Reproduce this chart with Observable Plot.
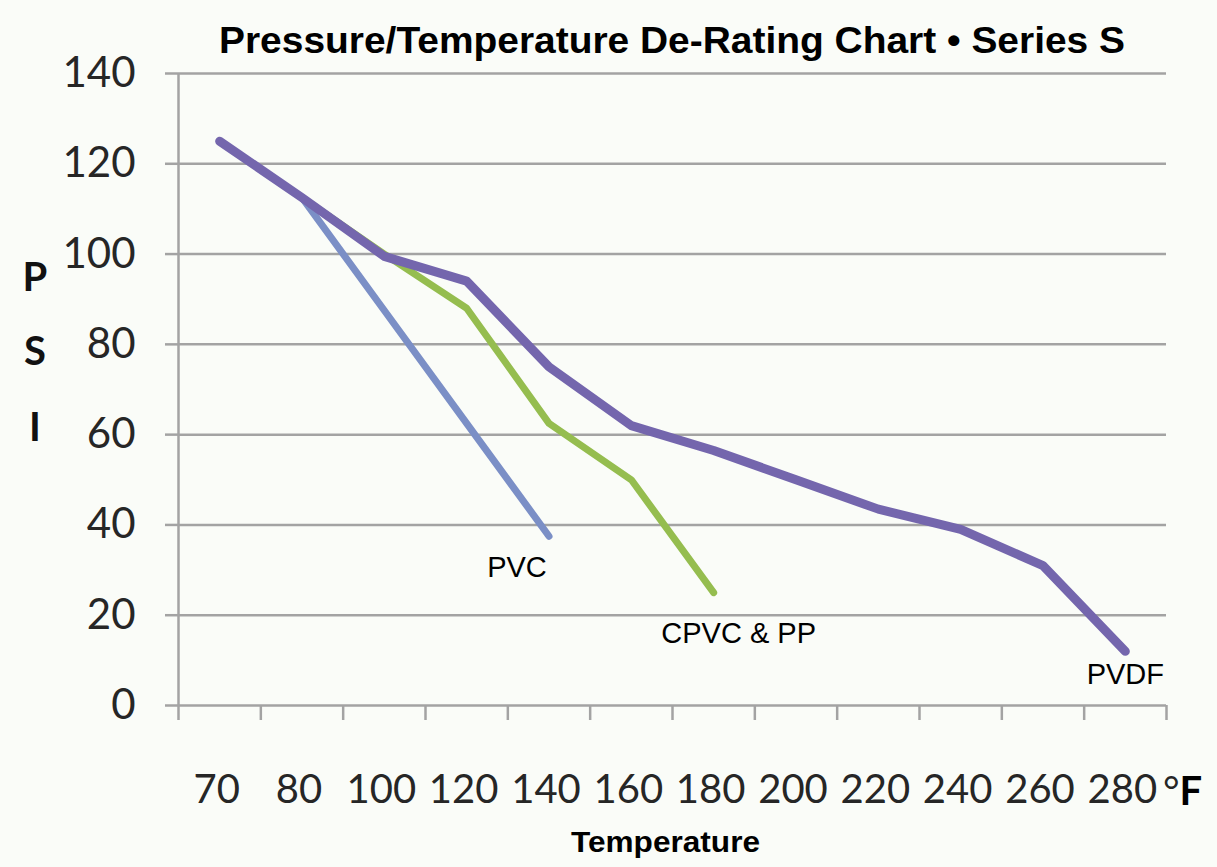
<!DOCTYPE html>
<html><head><meta charset="utf-8">
<script src="https://cdn.jsdelivr.net/npm/d3@7"></script>
<script src="https://cdn.jsdelivr.net/npm/@observablehq/plot@0.6"></script>
<style>
html,body{margin:0;padding:0;background:#fafcf8;}
#wrap{position:relative;width:1217px;height:867px;overflow:hidden;background:#fafcf8;}
#wrap svg{position:absolute;left:0;top:0;}
</style></head>
<body><div id="wrap"></div>
<script>
// ---- data ----
const temps = [70, 80, 100, 120, 140, 160, 180, 200, 220, 240, 260, 280];
const yTicks = [0, 20, 40, 60, 80, 100, 120, 140];
const seriesNames = ["PVC", "CPVC & PP", "PVDF"];
const pvc  = [125, 112.5, 87.5, 62.5, 37.5];
const cpvc = [125, 112.5, 100, 88, 62.5, 50, 25];
const pvdf = [125, 112.5, 99.5, 94, 75, 62, 56.5, 50, 43.5, 39, 31, 12];
const colors = ["#7b8fc6", "#95bd4f", "#7466ad"];
const titleText = "Pressure/Temperature De-Rating Chart \u2022 Series S";
const xLabel = "Temperature";
const yLabelLetters = ["P", "S", "I"];

const seriesValues = [pvc, cpvc, pvdf];
const rows = seriesValues.flatMap((vals, s) => vals.map((v, i) => ({series: seriesNames[s], i, temp: temps[i], psi: v})));
const ends = seriesValues.map((vals, s) => ({series: seriesNames[s], i: vals.length - 1, psi: vals[vals.length - 1]}));
const bandEdges = d3.range(temps.length + 1).map(k => k - 0.5);

const grid = "#a3a3a3";
const tickFont = "Lato, 'Open Sans', sans-serif";
const labelFont = "'Liberation Sans', Arial, sans-serif";

const lineMark = (s, w) => Plot.line(rows.filter(r => r.series === seriesNames[s]), {
  x: "i", y: "psi", stroke: colors[s], strokeWidth: w, strokeLinecap: "round", strokeLinejoin: "round"
});
const labelMark = (s, dx, dy) => Plot.text([ends[s]], {
  x: "i", y: "psi", text: "series", dx, dy, fontSize: 29, fontFamily: labelFont, fill: "#000"
});

const chart = Plot.plot({
  width: 1217, height: 867,
  marginLeft: 178, marginRight: 51, marginTop: 73, marginBottom: 162,
  style: {background: "transparent", overflow: "visible"},
  x: {type: "linear", domain: [bandEdges[0], bandEdges[bandEdges.length - 1]]},
  y: {domain: [0, 140]},
  marks: [
    Plot.gridY({ticks: yTicks, stroke: grid, strokeOpacity: 1, strokeWidth: 2.5}),
    Plot.ruleX([bandEdges[0]], {stroke: grid, strokeWidth: 2.5}),
    Plot.axisY({ticks: yTicks, tickSize: 13, tickPadding: 30, stroke: grid, strokeWidth: 2.5,
      fontSize: 42, fontFamily: tickFont, fill: "#262626", label: null}),
    Plot.axisX({ticks: bandEdges, tickSize: 15, tickFormat: () => "", stroke: grid, strokeWidth: 2.5, label: null}),
    Plot.axisX({ticks: d3.range(temps.length), tickSize: 0, tickPadding: 69, tickFormat: i => String(temps[i]),
      fontSize: 40, fontFamily: tickFont, fill: "#262626", label: null, dx: -3}),
    lineMark(0, 7),
    lineMark(1, 7),
    lineMark(2, 9),
    labelMark(0, -32, 32),
    labelMark(1, 25, 41),
    labelMark(2, 0, 23)
  ]
});
const wrap = document.getElementById("wrap");
wrap.appendChild(chart);

// overlay texts (title, axis titles)
const ns = "http://www.w3.org/2000/svg";
const ov = document.createElementNS(ns, "svg");
ov.setAttribute("width", 1217); ov.setAttribute("height", 867);
wrap.appendChild(ov);
function addText(str, x, y, opts) {
  const t = document.createElementNS(ns, "text");
  t.textContent = str;
  t.setAttribute("x", x); t.setAttribute("y", y);
  for (const [k, v] of Object.entries(opts)) t.setAttribute(k, v);
  ov.appendChild(t);
  return t;
}
addText(titleText, 219, 53, {"font-family": labelFont, "font-weight": "bold", "font-size": 36,
  textLength: 906, lengthAdjust: "spacingAndGlyphs", fill: "#000"});
addText(xLabel, 571, 852, {"font-family": labelFont, "font-weight": "bold", "font-size": 29,
  textLength: 189, lengthAdjust: "spacingAndGlyphs", fill: "#000"});
const psiY = [291, 365, 441];
yLabelLetters.forEach((c, k) => addText(c, 35, psiY[k], {"font-family": tickFont, "font-weight": "bold",
  "font-size": 40, "text-anchor": "middle", fill: "#111"}));
const deg = addText("", 1163, 805, {"font-family": tickFont, "font-size": 40, fill: "#262626"});
const t1 = document.createElementNS(ns, "tspan"); t1.textContent = "\u00b0"; deg.appendChild(t1);
const t2 = document.createElementNS(ns, "tspan"); t2.textContent = "F"; t2.setAttribute("font-weight", "bold"); t2.setAttribute("fill", "#000"); deg.appendChild(t2);
</script>
</body></html>
